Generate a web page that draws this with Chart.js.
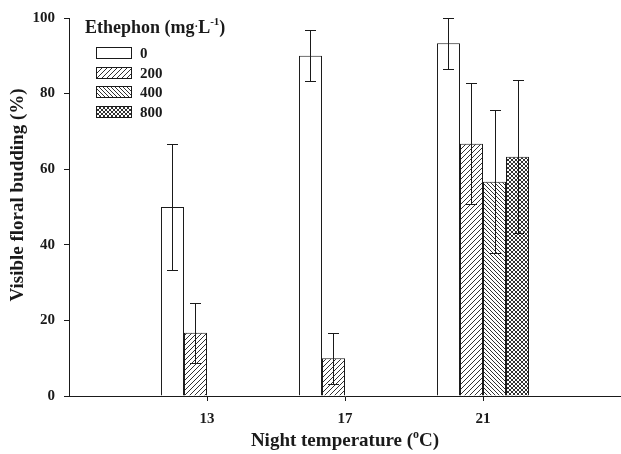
<!DOCTYPE html>
<html>
<head>
<meta charset="utf-8">
<script src="https://cdn.jsdelivr.net/npm/chart.js@4.4.1/dist/chart.umd.min.js"></script>
<style>
  html, body { margin: 0; padding: 0; background: #fff; }
  #chart { display: block; }
</style>
</head>
<body>
<canvas id="chart" width="621" height="454"></canvas>
<script>
'use strict';

// night temperatures (oC)
var categories = ['13', '17', '21'];
var doses = ['0', '200', '400', '800'];

// visible floral budding (%) and error bars, one array per ethephon dose
var eth0 = [50, 90, 93.3];
var eth200 = [16.7, 10, 66.7];
var eth400 = [null, null, 56.7];
var eth800 = [null, null, 63.3];
var err0 = [16.7, 6.7, 6.7];
var err200 = [8, 6.7, 16];
var err400 = [null, null, 19];
var err800 = [null, null, 20.3];

var yTicks = [0, 20, 40, 60, 80, 100];

var FONT = "'Liberation Serif', 'Times New Roman', serif";
var INK = '#1a1a1a';

/****** hatch patterns *********/
function makePattern(kind) {
    var s = kind === 'fwd' ? 5 : 4;
    var c = document.createElement('canvas');
    c.width = s; c.height = s;
    var g = c.getContext('2d');
    g.fillStyle = '#fff';
    g.fillRect(0, 0, s, s);
    g.strokeStyle = INK;
    g.lineWidth = 0.9;
    g.beginPath();
    if (kind === 'fwd' || kind === 'cross') {
        g.moveTo(-1, s + 1); g.lineTo(s + 1, -1);
        g.moveTo(-1, 1); g.lineTo(1, -1);
        g.moveTo(s - 1, s + 1); g.lineTo(s + 1, s - 1);
    }
    if (kind === 'back' || kind === 'cross') {
        g.moveTo(-1, -1); g.lineTo(s + 1, s + 1);
        g.moveTo(s - 1, -1); g.lineTo(s + 1, 1);
        g.moveTo(-1, s - 1); g.lineTo(1, s + 1);
    }
    g.stroke();
    return g.createPattern(c, 'repeat');
}

var fills = ['#fff', makePattern('fwd'), makePattern('back'), makePattern('cross')];
var values = [eth0, eth200, eth400, eth800];
var errors = [err0, err200, err400, err800];

// blank slots either side so the axis runs from 9 to 25 oC
var labels = [''].concat(categories, ['']);
function pad(arr) { return [null].concat(arr, [null]); }

var datasets = [];
for (var i = 0; i < doses.length; i++) {
    datasets.push({
        label: doses[i],
        data: pad(values[i]),
        errors: pad(errors[i]),
        backgroundColor: fills[i],
        borderColor: INK,
        borderWidth: 1,
        categoryPercentage: 0.667,
        barPercentage: 1.0
    });
}

/****** error bars, legend and axis titles *********/
var extras = {
    id: 'extras',
    afterDatasetsDraw: function(chart) {
        var ctx = chart.ctx;
        var yScale = chart.scales.y;
        ctx.save();
        ctx.strokeStyle = INK;
        ctx.lineWidth = 1;
        chart.data.datasets.forEach(function(ds, di) {
            var meta = chart.getDatasetMeta(di);
            meta.data.forEach(function(bar, j) {
                var v = ds.data[j], e = ds.errors[j];
                if (v === null || e === null) return;
                var x = Math.round(bar.x) + 0.5;
                var yt = Math.round(yScale.getPixelForValue(v + e)) + 0.5;
                var yb = Math.round(yScale.getPixelForValue(v - e)) + 0.5;
                ctx.beginPath();
                ctx.moveTo(x, yt); ctx.lineTo(x, yb);
                ctx.moveTo(x - 5.5, yt); ctx.lineTo(x + 5.5, yt);
                ctx.moveTo(x - 5.5, yb); ctx.lineTo(x + 5.5, yb);
                ctx.stroke();
            });
        });
        ctx.restore();
    },
    afterDraw: function(chart) {
        var ctx = chart.ctx;
        var area = chart.chartArea;
        ctx.save();
        ctx.fillStyle = INK;
        ctx.textBaseline = 'alphabetic';

        // legend title: Ethephon (mg·L-1)
        var lx = area.left + 16, ly = area.top + 15;
        ctx.font = 'bold 18px ' + FONT;
        ctx.textAlign = 'left';
        var t1 = 'Ethephon (mg';
        ctx.fillText(t1, lx, ly);
        lx += ctx.measureText(t1).width;
        ctx.font = 'bold 11px ' + FONT;
        ctx.fillText('\u00b7', lx, ly - 3);
        lx += ctx.measureText('\u00b7').width;
        ctx.font = 'bold 18px ' + FONT;
        ctx.fillText('L', lx, ly);
        lx += ctx.measureText('L').width;
        ctx.font = 'bold 11px ' + FONT;
        ctx.fillText('-1', lx, ly - 8);
        lx += ctx.measureText('-1').width;
        ctx.font = 'bold 18px ' + FONT;
        ctx.fillText(')', lx, ly);

        // legend entries
        ctx.lineWidth = 1;
        ctx.strokeStyle = INK;
        chart.data.datasets.forEach(function(ds, di) {
            var bx = area.left + 27, cy = area.top + 35 + di * 19.7;
            var by = Math.round(cy - 6) + 0.5;
            ctx.fillStyle = ds.backgroundColor;
            ctx.fillRect(bx + 0.5, by, 35, 11);
            ctx.strokeRect(bx + 0.5, by, 35, 11);
            ctx.fillStyle = INK;
            ctx.font = 'bold 15px ' + FONT;
            ctx.textBaseline = 'middle';
            ctx.fillText(ds.label, bx + 44, cy + 1);
            ctx.textBaseline = 'alphabetic';
        });

        // x title with superscript o
        var a = 'Night temperature (', b = 'o', c = 'C)';
        ctx.font = 'bold 19px ' + FONT;
        var wa = ctx.measureText(a).width, wc = ctx.measureText(c).width;
        ctx.font = 'bold 12px ' + FONT;
        var wb = ctx.measureText(b).width;
        var xs = (area.left + area.right) / 2 - (wa + wb + wc) / 2;
        var yb = 446;
        ctx.font = 'bold 19px ' + FONT;
        ctx.fillText(a, xs, yb);
        ctx.font = 'bold 12px ' + FONT;
        ctx.fillText(b, xs + wa, yb - 8);
        ctx.font = 'bold 19px ' + FONT;
        ctx.fillText(c, xs + wa + wb, yb);

        // y title
        ctx.translate(18, 195);
        ctx.rotate(-Math.PI / 2);
        ctx.textAlign = 'center';
        ctx.textBaseline = 'middle';
        ctx.font = 'bold 19px ' + FONT;
        ctx.fillText('Visible floral budding (%)', 0, 0);
        ctx.restore();
    }
};

var chart = new Chart(document.getElementById('chart'), {
    type: 'bar',
    data: { labels: labels, datasets: datasets },
    plugins: [extras],
    options: {
        responsive: false,
        animation: false,
        layout: { padding: { top: 16, right: 0, left: 0, bottom: 0 } },
        plugins: { legend: { display: false }, tooltip: { enabled: false } },
        scales: {
            x: {
                offset: false,
                border: { display: true, color: INK, width: 1 },
                grid: {
                    display: true,
                    offset: false,
                    drawOnChartArea: false,
                    tickLength: 5,
                    tickColor: function(c) { return c.tick && c.tick.label ? INK : 'rgba(0,0,0,0)'; }
                },
                ticks: {
                    color: INK,
                    font: { family: FONT, size: 15, weight: 'bold' },
                    padding: 9,
                    maxRotation: 0,
                    autoSkip: false
                },
                afterFit: function(scale) {
                    scale.height = 58;
                    scale.paddingLeft = 0;
                    scale.paddingRight = 0;
                }
            },
            y: {
                min: 0,
                max: 100,
                border: { display: true, color: INK, width: 1 },
                grid: { display: true, drawOnChartArea: false, tickLength: 5, tickColor: INK },
                afterBuildTicks: function(scale) {
                    scale.ticks = yTicks.map(function(v) { return { value: v }; });
                },
                ticks: {
                    color: INK,
                    font: { family: FONT, size: 15, weight: 'bold' },
                    padding: 9
                },
                afterFit: function(scale) { scale.width = 69; }
            }
        }
    }
});
</script>
</body>
</html>
